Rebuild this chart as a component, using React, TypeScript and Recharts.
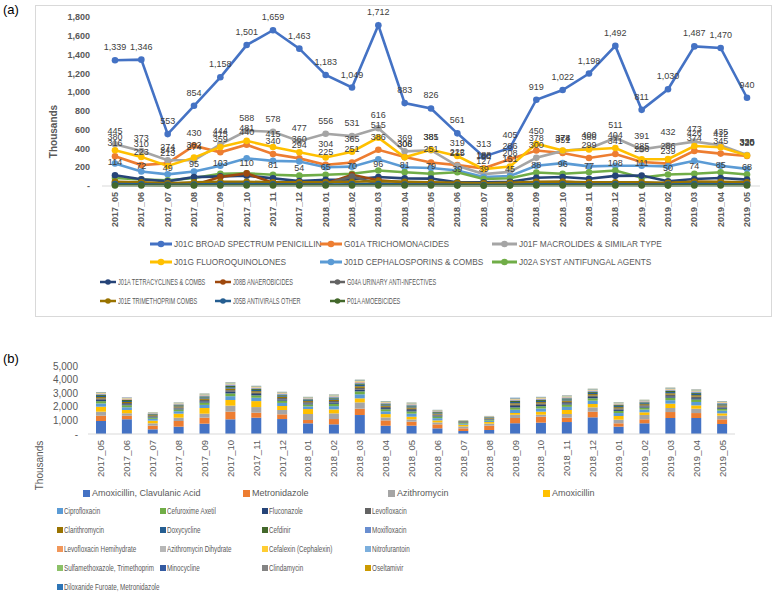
import React from 'react';
import { LineChart, Line, XAxis, YAxis, LabelList, BarChart, Bar } from 'recharts';

const FONT = "'Liberation Sans', Arial, sans-serif";
const TEXT = '#595959';

const months = [
  '2017_05', '2017_06', '2017_07', '2017_08', '2017_09', '2017_10', '2017_11', '2017_12',
  '2018_01', '2018_02', '2018_03', '2018_04', '2018_05', '2018_06', '2018_07', '2018_08',
  '2018_09', '2018_10', '2018_11', '2018_12', '2019_01', '2019_02', '2019_03', '2019_04', '2019_05',
];

// (a) ATC class lines, thousands
const j01c = [1339, 1346, 553, 854, 1158, 1501, 1659, 1463, 1183, 1049, 1712, 883, 826, 561, 313, 405, 919, 1022, 1198, 1492, 811, 1030, 1487, 1470, 940];
const g01a = [316, 223, 243, 430, 359, 440, 340, 294, 225, 251, 386, 308, 251, 222, 188, 286, 378, 351, 299, 341, 256, 239, 374, 345, 320];
const j01f = [445, 373, 274, 274, 444, 588, 578, 477, 556, 531, 616, 369, 381, 215, 127, 151, 300, 374, 400, 511, 391, 432, 473, 435, 330];
const j01g = [380, 310, 213, 302, 415, 481, 415, 360, 304, 365, 515, 306, 385, 319, 180, 208, 450, 378, 388, 404, 285, 286, 426, 412, 325];
const j01d = [240, 155, 124, 155, 216, 295, 268, 261, 199, 206, 285, 199, 192, 165, 96, 106, 216, 244, 209, 216, 216, 209, 268, 216, 182];
const j02a = [85, 70, 60, 85, 130, 134, 120, 110, 120, 130, 165, 147, 130, 147, 74, 82, 144, 130, 147, 165, 89, 123, 130, 147, 123];
const j01a = [114, 72, 49, 95, 103, 110, 81, 54, 65, 70, 96, 81, 79, 39, 39, 45, 88, 96, 77, 108, 111, 50, 74, 85, 68];
const j08b = [40, 35, 20, 10, 96, 134, 34, 25, 25, 120, 62, 40, 35, 30, 25, 30, 40, 45, 35, 30, 28, 30, 45, 40, 35];
const g04a = [15, 15, 12, 10, 15, 15, 18, 15, 20, 100, 25, 15, 15, 12, 10, 12, 15, 15, 15, 18, 12, 12, 15, 15, 12];
const j01e = [45, 40, 30, 40, 45, 45, 40, 40, 40, 45, 50, 45, 40, 35, 30, 35, 45, 45, 40, 40, 40, 35, 45, 45, 40];
const j05b = [20, 18, 12, 15, 20, 20, 18, 15, 15, 18, 20, 15, 15, 12, 10, 12, 18, 18, 15, 18, 15, 15, 20, 18, 15];
const p01a = [5, 5, 4, 5, 5, 6, 5, 5, 5, 5, 6, 5, 5, 4, 3, 4, 5, 5, 5, 5, 5, 4, 5, 5, 5];

const lineTicks = [0, 200, 400, 600, 800, 1000, 1200, 1400, 1600, 1800];

// (b) molecules, stacked, thousands
const amoxClav = [955, 1080, 345, 540, 760, 1080, 1200, 1100, 785, 710, 1395, 610, 610, 415, 220, 295, 785, 835, 880, 1225, 540, 785, 1175, 1175, 735];
const metronidazole = [390, 270, 270, 415, 440, 565, 365, 345, 245, 390, 465, 390, 295, 295, 195, 320, 390, 440, 320, 415, 245, 295, 440, 365, 345];
const azithromycin = [295, 170, 170, 245, 295, 440, 415, 320, 440, 415, 465, 220, 170, 145, 145, 145, 245, 145, 270, 320, 270, 320, 295, 320, 270];
const amoxicillin = [365, 245, 195, 295, 415, 415, 440, 295, 365, 295, 295, 245, 195, 145, 120, 120, 120, 220, 295, 245, 270, 195, 320, 245, 170];
const ciprofloxacin = [240, 200, 135, 180, 230, 280, 245, 225, 195, 235, 300, 205, 225, 165, 75, 97, 240, 235, 230, 245, 215, 200, 255, 250, 195];
const cefuroxime = [170, 145, 100, 130, 170, 205, 175, 165, 140, 175, 215, 150, 165, 120, 55, 70, 175, 170, 170, 175, 155, 145, 185, 180, 140];
const fluconazole = [95, 80, 55, 70, 95, 115, 100, 95, 80, 100, 120, 85, 95, 70, 31, 40, 100, 95, 95, 100, 90, 82, 105, 100, 80];
const levofloxacin = [110, 90, 60, 80, 105, 125, 110, 100, 90, 105, 135, 95, 105, 75, 34, 45, 110, 110, 105, 110, 100, 90, 115, 118, 88];
const clarithromycin = [95, 80, 55, 75, 95, 115, 100, 95, 80, 95, 120, 85, 90, 70, 31, 40, 100, 95, 95, 100, 90, 82, 105, 102, 80];
const doxycycline = [85, 75, 50, 65, 85, 100, 90, 80, 70, 85, 110, 75, 80, 60, 27, 35, 90, 85, 85, 88, 80, 72, 90, 95, 70];
const cefdinir = [75, 65, 45, 55, 75, 90, 75, 70, 60, 75, 95, 65, 70, 55, 24, 30, 75, 75, 75, 77, 70, 63, 80, 82, 62];
const moxifloxacin = [55, 45, 30, 40, 50, 65, 55, 50, 45, 55, 65, 45, 50, 38, 17, 22, 55, 55, 52, 55, 48, 45, 58, 57, 44];
const levoHemihydrate = [30, 25, 18, 25, 30, 40, 35, 30, 25, 32, 40, 28, 30, 23, 10, 13, 33, 32, 30, 33, 29, 27, 35, 34, 26];
const azithroDihydrate = [30, 25, 18, 25, 30, 40, 30, 30, 25, 32, 40, 28, 30, 23, 10, 13, 33, 32, 30, 33, 29, 27, 35, 35, 26];
const cefalexin = [25, 25, 15, 20, 25, 30, 28, 26, 22, 27, 34, 23, 26, 19, 9, 11, 28, 27, 26, 28, 24, 23, 29, 30, 22];
const nitrofurantoin = [20, 20, 12, 15, 20, 25, 22, 21, 18, 22, 27, 19, 21, 15, 7, 9, 22, 22, 21, 22, 20, 18, 23, 24, 18];
const sulfaTrimethoprim = [15, 15, 9, 12, 15, 20, 16, 15, 13, 16, 20, 14, 15, 11, 5, 7, 17, 16, 16, 17, 15, 14, 17, 17, 13];
const minocycline = [10, 10, 6, 8, 10, 12, 11, 10, 9, 11, 13, 9, 10, 8, 3, 4, 11, 11, 11, 11, 10, 9, 12, 12, 9];
const clindamycin = [10, 10, 6, 8, 10, 12, 11, 10, 9, 11, 13, 9, 10, 8, 3, 4, 11, 11, 11, 11, 10, 9, 12, 12, 9];
const oseltamivir = [10, 8, 5, 7, 10, 12, 10, 10, 8, 10, 13, 9, 10, 8, 3, 4, 11, 10, 10, 10, 10, 9, 12, 12, 9];
const diloxanide = [10, 8, 5, 7, 10, 12, 10, 10, 8, 10, 13, 9, 10, 8, 3, 4, 11, 10, 10, 10, 10, 9, 12, 12, 9];

const barTicks = [0, 1000, 2000, 3000, 4000, 5000];

const lineSeries = [
  { key: 'j01c', name: 'J01C BROAD SPECTRUM PENICILLIN', color: '#4472C4', values: j01c, labels: true },
  { key: 'g01a', name: 'G01A TRICHOMONACIDES', color: '#ED7D31', values: g01a, labels: true },
  { key: 'j01f', name: 'J01F MACROLIDES & SIMILAR TYPE', color: '#A5A5A5', values: j01f, labels: true },
  { key: 'j01g', name: 'J01G FLUOROQUINOLONES', color: '#FFC000', values: j01g, labels: true },
  { key: 'j01d', name: 'J01D CEPHALOSPORINS & COMBS', color: '#5B9BD5', values: j01d, labels: false },
  { key: 'j02a', name: 'J02A SYST ANTIFUNGAL AGENTS', color: '#70AD47', values: j02a, labels: false },
  { key: 'j01a', name: 'J01A TETRACYCLINES & COMBS', color: '#264478', values: j01a, labels: true },
  { key: 'j08b', name: 'J08B ANAEROBICIDES', color: '#9E480E', values: j08b, labels: false },
  { key: 'g04a', name: 'G04A URINARY ANTI-INFECTIVES', color: '#636363', values: g04a, labels: false },
  { key: 'j01e', name: 'J01E TRIMETHOPRIM COMBS', color: '#997300', values: j01e, labels: false },
  { key: 'j05b', name: 'J05B ANTIVIRALS OTHER', color: '#255E91', values: j05b, labels: false },
  { key: 'p01a', name: 'P01A AMOEBICIDES', color: '#43682B', values: p01a, labels: false },
];

const barSeries = [
  { key: 'b0', name: 'Amoxicillin, Clavulanic Acid', color: '#4472C4', values: amoxClav },
  { key: 'b1', name: 'Metronidazole', color: '#ED7D31', values: metronidazole },
  { key: 'b2', name: 'Azithromycin', color: '#A5A5A5', values: azithromycin },
  { key: 'b3', name: 'Amoxicillin', color: '#FFC000', values: amoxicillin },
  { key: 'b4', name: 'Ciprofloxacin', color: '#5B9BD5', values: ciprofloxacin },
  { key: 'b5', name: 'Cefuroxime Axetil', color: '#70AD47', values: cefuroxime },
  { key: 'b6', name: 'Fluconazole', color: '#264478', values: fluconazole },
  { key: 'b7', name: 'Levofloxacin', color: '#636363', values: levofloxacin },
  { key: 'b8', name: 'Clarithromycin', color: '#997300', values: clarithromycin },
  { key: 'b9', name: 'Doxycycline', color: '#255E91', values: doxycycline },
  { key: 'b10', name: 'Cefdinir', color: '#43682B', values: cefdinir },
  { key: 'b11', name: 'Moxifloxacin', color: '#698ED0', values: moxifloxacin },
  { key: 'b12', name: 'Levofloxacin Hemihydrate', color: '#F1975A', values: levoHemihydrate },
  { key: 'b13', name: 'Azithromycin Dihydrate', color: '#B7B7B7', values: azithroDihydrate },
  { key: 'b14', name: 'Cefalexin (Cephalexin)', color: '#FFCD33', values: cefalexin },
  { key: 'b15', name: 'Nitrofurantoin', color: '#7CAFDD', values: nitrofurantoin },
  { key: 'b16', name: 'Sulfamethoxazole, Trimethoprim', color: '#8CC168', values: sulfaTrimethoprim },
  { key: 'b17', name: 'Minocycline', color: '#335AA1', values: minocycline },
  { key: 'b18', name: 'Clindamycin', color: '#848484', values: clindamycin },
  { key: 'b19', name: 'Oseltamivir', color: '#CC9A00', values: oseltamivir },
  { key: 'b20', name: 'Diloxanide Furoate, Metronidazole', color: '#2E75B6', values: diloxanide },
];

const lineData = months.map((m, i) => {
  const row: Record<string, string | number> = { month: m };
  lineSeries.forEach((s) => { row[s.key] = s.values[i]; });
  return row;
});

const barData = months.map((m, i) => {
  const row: Record<string, string | number> = { month: m };
  barSeries.forEach((s) => { row[s.key] = s.values[i]; });
  return row;
});

const fmt = (v: number) => (v === 0 ? '-' : Number(v).toLocaleString('en-US'));

const RotTick = (props: any) => {
  const { x, y, payload, bold, size } = props;
  return (
    <text
      x={x}
      y={y}
      transform={`rotate(-90 ${x} ${y})`}
      textAnchor="end"
      dominantBaseline="central"
      fontSize={size}
      fontWeight={bold ? 700 : 400}
      fontFamily={FONT}
      fill={TEXT}
    >
      {payload.value}
    </text>
  );
};

// condensed look for the narrow legend rows
function Label({ text, size, squeeze }: any) {
  return (
    <span
      style={{
        display: 'inline-block', fontFamily: FONT, fontSize: size, color: TEXT,
        lineHeight: '12px', transform: `scaleX(${squeeze})`, transformOrigin: 'left center',
      }}
    >
      {text}
    </span>
  );
}

// legend entry with a line + dot marker
function LineKey({ x, y, w, color, name, narrow }: any) {
  return (
    <div
      style={{
        position: 'absolute', left: x, top: y - 6, height: 12, display: 'flex',
        alignItems: 'center', whiteSpace: 'nowrap',
      }}
    >
      <svg width={w} height={8} style={{ marginRight: 2 }}>
        <line x1={0} y1={4} x2={w} y2={4} stroke={color} strokeWidth={narrow ? 2.5 : 3} />
        <circle cx={w / 2} cy={4} r={narrow ? 2.8 : 3.3} fill={color} />
      </svg>
      {narrow ? <Label text={name} size={9} squeeze={0.62} /> : <Label text={name} size={8.3} squeeze={1} />}
    </div>
  );
}

function BoxKey({ x, y, color, name, big }: any) {
  const s = big ? 7 : 6;
  return (
    <div
      style={{
        position: 'absolute', left: x, top: y - 6, height: 12, display: 'flex',
        alignItems: 'center', whiteSpace: 'nowrap',
      }}
    >
      <div style={{ width: s, height: s, background: color, marginRight: big ? 2 : 1 }} />
      {big ? <Label text={name} size={9} squeeze={1} /> : <Label text={name} size={9.5} squeeze={0.66} />}
    </div>
  );
}

export default function App() {
  const ls = lineSeries;
  const bs = barSeries;
  const colA = [57, 160, 262, 365];
  return (
    <div
      style={{
        position: 'absolute', left: 0, top: 0, width: 777, height: 596,
        background: '#fff', fontFamily: FONT, overflow: 'hidden',
      }}
    >
      {/* panel (a) */}
      <div style={{ position: 'absolute', left: 3, top: 2, fontSize: 13, color: '#000' }}>(a)</div>
      <div
        style={{
          position: 'absolute', left: 35, top: 5, width: 735, height: 310,
          border: '1px solid #d9d9d9',
        }}
      />
      <div
        style={{
          position: 'absolute', left: 23, top: 126, width: 60, textAlign: 'center',
          transform: 'rotate(-90deg)', fontSize: 10, fontWeight: 700, color: TEXT,
        }}
      >
        Thousands
      </div>
      <div style={{ position: 'absolute', left: 0, top: 0 }}>
        <LineChart
          width={777}
          height={231}
          data={lineData}
          margin={{ top: 17, right: 17, left: 0, bottom: 0 }}
        >
          <XAxis
            dataKey="month"
            interval={0}
            height={45}
            padding={{ left: 13, right: 13 }}
            axisLine={{ stroke: '#d9d9d9' }}
            tickLine={false}
            tickSize={0}
            tickMargin={6}
            tick={<RotTick bold size={9} />}
          />
          <YAxis
            width={102}
            domain={[0, 1800]}
            ticks={lineTicks}
            interval={0}
            axisLine={false}
            tickLine={false}
            tickSize={0}
            tickMargin={12}
            tickFormatter={fmt}
            tick={{ fontSize: 9, fontWeight: 700, fill: TEXT, fontFamily: FONT }}
          />
          {ls.map((s) => (
            <Line
              key={s.key}
              dataKey={s.key}
              name={s.name}
              stroke={s.color}
              strokeWidth={2.6}
              dot={{ r: 3.3, fill: s.color, stroke: s.color, strokeWidth: 0 }}
              isAnimationActive={false}
            />
          ))}
          {ls.filter((s) => s.labels).map((s) => (
            <Line
              key={`${s.key}-lbl`}
              dataKey={s.key}
              stroke="none"
              dot={false}
              activeDot={false}
              legendType="none"
              isAnimationActive={false}
            >
              <LabelList
                dataKey={s.key}
                position="top"
                offset={10}
                formatter={fmt}
                fontSize={9}
                fill="#404040"
                fontFamily={FONT}
              />
            </Line>
          ))}
        </LineChart>
      </div>

      {/* legend (a) */}
      <LineKey x={150} y={244} w={22} color={ls[0].color} name={ls[0].name} />
      <LineKey x={320} y={244} w={22} color={ls[1].color} name={ls[1].name} />
      <LineKey x={492} y={244} w={25} color={ls[2].color} name={ls[2].name} />
      <LineKey x={150} y={262} w={22} color={ls[3].color} name={ls[3].name} />
      <LineKey x={320} y={262} w={22} color={ls[4].color} name={ls[4].name} />
      <LineKey x={492} y={262} w={25} color={ls[5].color} name={ls[5].name} />
      <LineKey x={100} y={282} w={16} color={ls[6].color} name={ls[6].name} narrow />
      <LineKey x={215} y={282} w={16} color={ls[7].color} name={ls[7].name} narrow />
      <LineKey x={330} y={282} w={15} color={ls[8].color} name={ls[8].name} narrow />
      <LineKey x={100} y={301} w={16} color={ls[9].color} name={ls[9].name} narrow />
      <LineKey x={215} y={301} w={16} color={ls[10].color} name={ls[10].name} narrow />
      <LineKey x={330} y={301} w={15} color={ls[11].color} name={ls[11].name} narrow />

      {/* panel (b) */}
      <div style={{ position: 'absolute', left: 3, top: 351, fontSize: 13, color: '#000' }}>(b)</div>
      <div
        style={{
          position: 'absolute', left: 9, top: 460, width: 60, textAlign: 'center',
          transform: 'rotate(-90deg)', fontSize: 10, color: TEXT,
        }}
      >
        Thousands
      </div>
      <div style={{ position: 'absolute', left: 0, top: 356 }}>
        <BarChart
          width={777}
          height={126}
          data={barData}
          margin={{ top: 10, right: 42, left: 0, bottom: 0 }}
          barSize={10}
        >
          <XAxis
            dataKey="month"
            interval={0}
            height={48}
            axisLine={{ stroke: '#d9d9d9' }}
            tickLine={false}
            tickSize={0}
            tickMargin={6}
            tick={<RotTick size={9.5} />}
          />
          <YAxis
            width={88}
            domain={[0, 5000]}
            ticks={barTicks}
            interval={0}
            axisLine={false}
            tickLine={false}
            tickSize={0}
            tickMargin={10}
            tickFormatter={fmt}
            tick={{ fontSize: 10, fill: TEXT, fontFamily: FONT }}
          />
          {bs.map((s) => (
            <Bar
              key={s.key}
              dataKey={s.key}
              name={s.name}
              stackId="a"
              fill={s.color}
              isAnimationActive={false}
            />
          ))}
        </BarChart>
      </div>

      {/* legend (b) */}
      <BoxKey x={83} y={493} color={bs[0].color} name={bs[0].name} big />
      <BoxKey x={243} y={493} color={bs[1].color} name={bs[1].name} big />
      <BoxKey x={388} y={493} color={bs[2].color} name={bs[2].name} big />
      <BoxKey x={543} y={493} color={bs[3].color} name={bs[3].name} big />
      {[511, 530, 549, 568, 587].map((ry, r) =>
        colA.map((cx, c) => {
          const s = bs[4 + r * 4 + c];
          return s ? <BoxKey key={s.key} x={cx} y={ry} color={s.color} name={s.name} /> : null;
        })
      )}
    </div>
  );
}
